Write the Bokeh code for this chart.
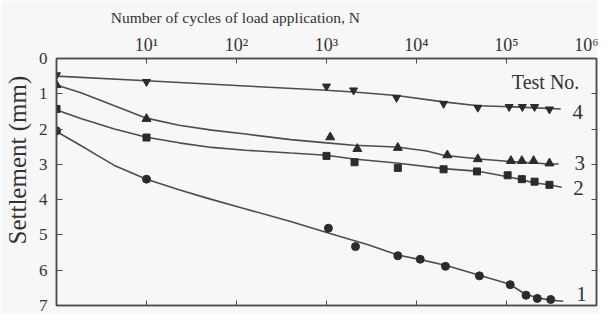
import math
from bokeh.plotting import figure
from bokeh.models import LogAxis, LinearAxis, FixedTicker, Label
from bokeh.embed import file_html
from bokeh.resources import INLINE

# ---------------- data ----------------
# measured points (N cycles, settlement mm)
t1_n = [1, 10, 1050, 2100, 6200, 11000, 21000, 50000, 110000, 165000, 220000, 310000]
t1_s = [2.05, 3.42, 4.81, 5.33, 5.59, 5.69, 5.89, 6.16, 6.41, 6.71, 6.80, 6.83]

t2_n = [1, 10, 1000, 2050, 6200, 20000, 47000, 103000, 148000, 205000, 300000]
t2_s = [1.43, 2.24, 2.76, 2.94, 3.10, 3.14, 3.20, 3.31, 3.42, 3.49, 3.58]

t3_n = [1, 10, 1100, 2200, 6200, 22000, 48000, 112000, 148000, 200000, 300000]
t3_s = [0.75, 1.71, 2.23, 2.56, 2.53, 2.74, 2.85, 2.90, 2.90, 2.90, 2.97]

t4_n = [1, 10, 1000, 2000, 6000, 20000, 48000, 107000, 150000, 205000, 300000]
t4_s = [0.47, 0.66, 0.79, 0.90, 1.11, 1.28, 1.39, 1.37, 1.37, 1.37, 1.44]

# fitted curves
c1_n = [1, 1.9, 2.9, 4.4, 10, 23, 46, 110, 400, 1070, 2900, 6200, 11000, 21000, 50000,
        107000, 162000, 229000, 316000, 427000]
c1_s = [2.07, 2.48, 2.76, 3.03, 3.42, 3.72, 3.95, 4.22, 4.62, 4.95, 5.28, 5.57, 5.70, 5.86,
        6.14, 6.39, 6.68, 6.79, 6.85, 6.88]

c2_n = [1, 1.9, 4.4, 10, 23, 53, 126, 400, 1000, 2000, 6000, 20000, 50000, 103000, 150000,
        200000, 295000, 410000]
c2_s = [1.46, 1.71, 2.00, 2.23, 2.39, 2.52, 2.60, 2.68, 2.74, 2.85, 2.96, 3.12, 3.20, 3.35,
        3.44, 3.52, 3.58, 3.65]

c3_n = [1, 1.9, 4.4, 10, 23, 53, 126, 400, 1000, 2000, 6000, 13000, 20000, 50000, 110000,
        300000, 380000]
c3_s = [0.75, 0.98, 1.34, 1.69, 1.89, 2.03, 2.14, 2.30, 2.39, 2.46, 2.51, 2.62, 2.74, 2.85,
        2.92, 2.99, 2.99]

c4_n = [1, 10, 126, 1000, 2000, 6000, 20000, 48000, 120000, 400000]
c4_s = [0.50, 0.63, 0.78, 0.90, 0.95, 1.05, 1.23, 1.34, 1.37, 1.43]

x_ticks = [1, 10, 100, 1000, 10000, 100000, 1000000]
x_tick_labels = ["", "10\u00b9", "10\u00b2", "10\u00b3", "10\u2074", "10\u2075", "10\u2076"]
y_ticks = [0, 1, 2, 3, 4, 5, 6, 7]

test_labels = ["1", "2", "3", "4"]
test_label_n = [680000, 630000, 650000, 620000]
test_label_s = [6.67, 3.68, 2.96, 1.52]

x_title = "Number of cycles of load application, N"
y_title = "Settlement (mm)"

# ---------------- styling ----------------
BG = "#f7f7f7"
INK = "#333333"
LINE = "#4d4d4d"
MARK = "#2b2b2b"
FONT = "Liberation Serif"

p = figure(width=598, height=314, x_axis_type="log", x_range=(1, 1e6), y_range=(7, 0),
           x_axis_location="above", output_backend="svg", toolbar_location=None,
           min_border_left=55, min_border_right=2, min_border_top=58, min_border_bottom=9,
           background_fill_color=BG, border_fill_color=BG)
p.grid.visible = False
p.outline_line_color = LINE
p.outline_line_width = 1.5

# top axis
ax = p.xaxis[0]
ax.ticker = FixedTicker(ticks=x_ticks)
ax.major_label_overrides = {t: l for t, l in zip(x_ticks, x_tick_labels)}
ax.major_tick_in = 5
ax.major_tick_out = 0
ax.minor_tick_in = 0
ax.minor_tick_out = 0
ax.major_label_standoff = 4
ax.major_label_text_font = FONT
ax.major_label_text_font_size = "18px"
ax.major_label_text_color = INK
ax.axis_line_color = LINE
ax.axis_line_width = 1.5
ax.major_tick_line_color = LINE
# title shifted left with non-breaking padding (the reference title sits left of centre)
ax.axis_label = x_title + "\u00a0" * 47
ax.axis_label_text_font = FONT
ax.axis_label_text_font_size = "15.5px"
ax.axis_label_text_font_style = "normal"
ax.axis_label_text_color = INK
ax.axis_label_standoff = 6

# left axis
ay = p.yaxis[0]
ay.ticker = FixedTicker(ticks=y_ticks)
ay.major_tick_in = 6
ay.major_tick_out = 0
ay.minor_tick_in = 0
ay.minor_tick_out = 0
ay.major_label_standoff = 9
ay.major_label_text_font = FONT
ay.major_label_text_font_size = "17px"
ay.major_label_text_color = INK
ay.axis_line_color = LINE
ay.axis_line_width = 1.5
ay.major_tick_line_color = LINE
ay.axis_label = "\u00a0" * 7 + y_title
ay.axis_label_text_font = FONT
ay.axis_label_text_font_size = "25px"
ay.axis_label_text_font_style = "normal"
ay.axis_label_text_color = INK
ay.axis_label_standoff = 5

# bottom axis (ticks only)
bx = LogAxis(ticker=FixedTicker(ticks=x_ticks), major_tick_in=5, major_tick_out=0,
             minor_tick_in=0, minor_tick_out=0, major_label_standoff=0,
             major_label_overrides={t: "" for t in x_ticks},
             major_label_text_font_size="1px",
             axis_line_color=LINE, axis_line_width=1.5, major_tick_line_color=LINE)
p.add_layout(bx, "below")

# right axis (ticks only)
ry = LinearAxis(ticker=FixedTicker(ticks=y_ticks), major_tick_in=5, major_tick_out=0,
                minor_tick_in=0, minor_tick_out=0, major_label_standoff=0,
                major_label_overrides={t: "" for t in y_ticks},
                major_label_text_font_size="1px",
                axis_line_color=LINE, axis_line_width=1.5, major_tick_line_color=LINE)
p.add_layout(ry, "right")

# curves
for cn, cs in [(c1_n, c1_s), (c2_n, c2_s), (c3_n, c3_s), (c4_n, c4_s)]:
    p.line(cn, cs, line_color=LINE, line_width=1.6)

# markers
p.scatter(t1_n, t1_s, marker="circle", size=8, color=MARK)
p.scatter(t2_n, t2_s, marker="square", size=7, color=MARK)
p.scatter(t3_n, t3_s, marker="triangle", size=9, color=MARK)
p.scatter(t4_n, t4_s, marker="inverted_triangle", size=8, color=MARK)

# test numbers
for t, n, s in zip(test_labels, test_label_n, test_label_s):
    p.add_layout(Label(x=n, y=s, text=t, text_font=FONT, text_font_size="21px",
                       text_color=INK, text_align="center", text_baseline="middle"))
p.add_layout(Label(x=272000, y=0.66, text="Test No.", text_font=FONT, text_font_size="20px",
                   text_color=INK, text_align="center", text_baseline="middle"))

open("out.html", "w").write(file_html(p, INLINE))
